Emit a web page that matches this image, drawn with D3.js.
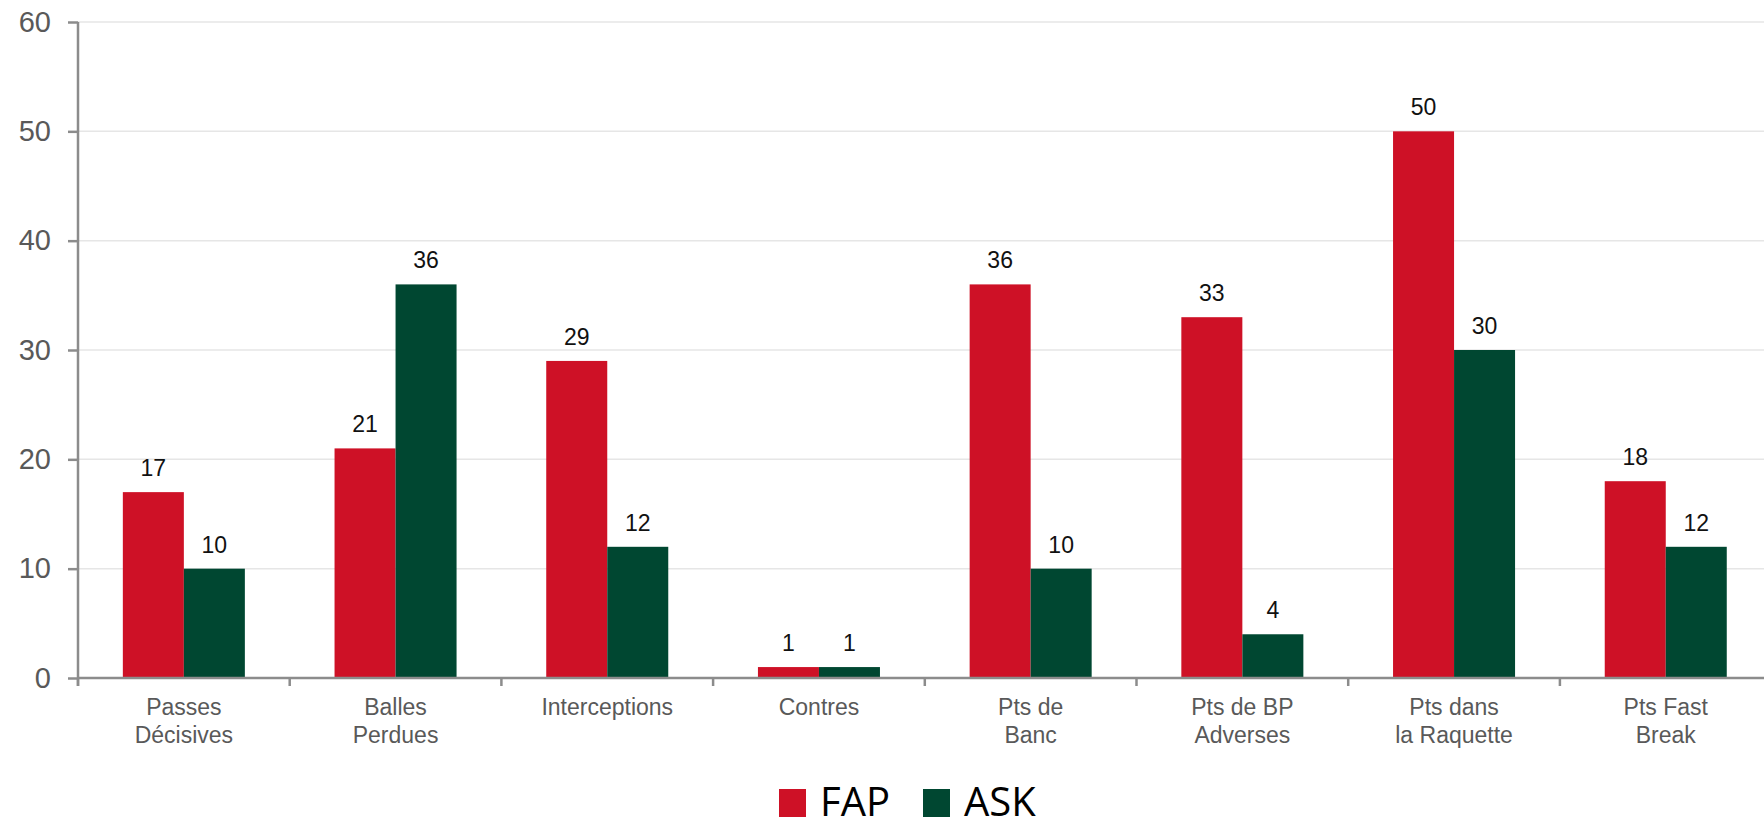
<!DOCTYPE html>
<html>
<head>
<meta charset="utf-8">
<script src="https://cdn.jsdelivr.net/npm/d3@7"></script>
<style>
  html, body { margin: 0; padding: 0; background: #fff; }
  svg { display: block; }
</style>
</head>
<body>
<svg id="chart" width="1764" height="817"></svg>
<script>
const categories = [
  ["Passes", "Décisives"],
  ["Balles", "Perdues"],
  ["Interceptions"],
  ["Contres"],
  ["Pts de", "Banc"],
  ["Pts de BP", "Adverses"],
  ["Pts dans", "la Raquette"],
  ["Pts Fast", "Break"]
];
const seriesNames = ["FAP", "ASK"];
const fapValues = [17, 21, 29, 1, 36, 33, 50, 18];
const askValues = [10, 36, 12, 1, 10, 4, 30, 12];
const yTicks = [0, 10, 20, 30, 40, 50, 60];
const colors = ["#CE1126", "#004731"];

(function () {
const svg = d3.select("#chart");
const mLeft = 78, mRight = 1771.6, mTop = 22, mBottom = 678;
const catKeys = categories.map(c => c.join(" "));

const x0 = d3.scaleBand().domain(catKeys).range([mLeft, mRight]).paddingInner(0).paddingOuter(0);
const x1 = d3.scaleBand().domain(seriesNames).range([0, x0.bandwidth()]).paddingInner(0).paddingOuter(0.735);
const y = d3.scaleLinear().domain([0, 60]).range([mBottom, mTop]);
const color = d3.scaleOrdinal().domain(seriesNames).range(colors);

// gridlines
svg.append("g").selectAll("line").data(yTicks.filter(t => t > 0)).join("line")
  .attr("x1", mLeft).attr("x2", 1764)
  .attr("y1", d => y(d)).attr("y2", d => y(d))
  .attr("stroke", "#e6e6e6").attr("stroke-width", 1.5);

const rows = catKeys.map((k, i) => ({ key: k, vals: [fapValues[i], askValues[i]] }));

// bars
const groups = svg.append("g").selectAll("g").data(rows).join("g")
  .attr("transform", d => `translate(${x0(d.key)},0)`);
groups.selectAll("rect").data(d => d.vals.map((v, j) => ({ s: seriesNames[j], v })))
  .join("rect")
  .attr("x", d => x1(d.s))
  .attr("width", x1.bandwidth())
  .attr("y", d => y(d.v))
  .attr("height", d => y(0) - y(d.v))
  .attr("fill", d => color(d.s));
groups.selectAll("text").data(d => d.vals.map((v, j) => ({ s: seriesNames[j], v })))
  .join("text")
  .attr("x", d => x1(d.s) + x1.bandwidth() / 2)
  .attr("y", d => y(d.v) - 16)
  .attr("text-anchor", "middle")
  .attr("font-family", "Liberation Sans, Arial, sans-serif")
  .attr("font-size", 23)
  .attr("fill", "#111")
  .text(d => d.v);

// y axis
const yAxis = svg.append("g").attr("transform", `translate(${mLeft},0)`)
  .call(d3.axisLeft(y).tickValues(yTicks).tickSize(10).tickPadding(17).tickFormat(d3.format("d")));
yAxis.select(".domain").attr("stroke", "#8c8c8c").attr("stroke-width", 2.5).attr("d", `M0,${mTop}V${mBottom + 8}`);
yAxis.selectAll(".tick line").attr("stroke", "#8c8c8c").attr("stroke-width", 2.5);
yAxis.selectAll(".tick text").attr("font-family", "Liberation Sans, Arial, sans-serif")
  .attr("font-size", 29).attr("fill", "#595959");

// x axis
const xAxis = svg.append("g").attr("transform", `translate(0,${mBottom})`);
xAxis.append("line").attr("x1", mLeft).attr("x2", 1764).attr("y1", 0).attr("y2", 0)
  .attr("stroke", "#8c8c8c").attr("stroke-width", 2.5);
const boundaries = catKeys.map(k => x0(k)).concat([mRight]);
xAxis.selectAll("line.tk").data(boundaries).join("line").attr("class", "tk")
  .attr("x1", d => d).attr("x2", d => d).attr("y1", 0).attr("y2", 8)
  .attr("stroke", "#8c8c8c").attr("stroke-width", 2.5);
const labels = xAxis.selectAll("text").data(categories).join("text")
  .attr("text-anchor", "middle")
  .attr("font-family", "Liberation Sans, Arial, sans-serif")
  .attr("font-size", 23)
  .attr("fill", "#595959")
  .attr("transform", (d, i) => `translate(${x0(catKeys[i]) + x0.bandwidth() / 2},0)`);
labels.selectAll("tspan").data(d => d).join("tspan")
  .attr("x", 0)
  .attr("y", (d, i) => 37 + i * 28)
  .text(d => d);

// legend
const legend = svg.append("g");
const legendX = [779, 923];
seriesNames.forEach((s, i) => {
  legend.append("rect").attr("x", legendX[i]).attr("y", 789).attr("width", 27).attr("height", 28).attr("fill", color(s));
  legend.append("text").attr("x", legendX[i] + 41).attr("y", 816)
    .attr("font-family", "Open Sans, Noto Sans, sans-serif").attr("font-size", 40).attr("fill", "#000")
    .text(s);
});
})();
</script>
</body>
</html>
